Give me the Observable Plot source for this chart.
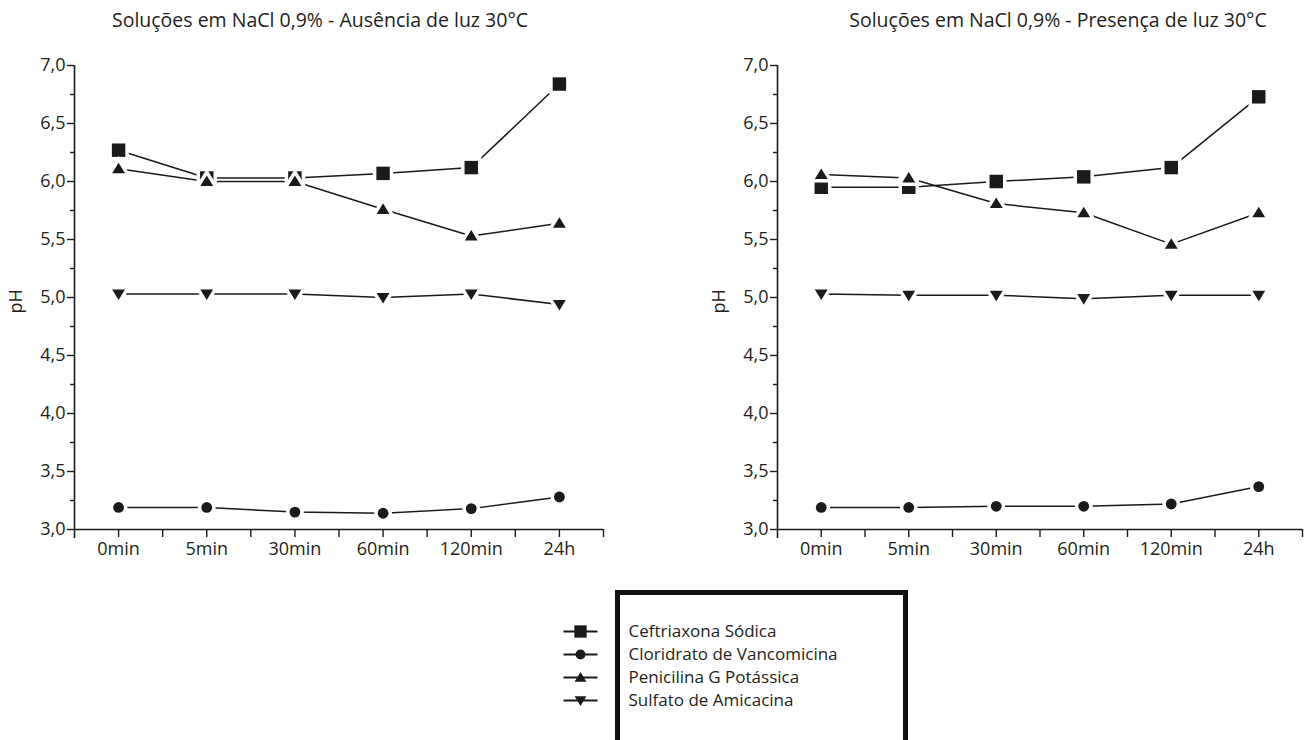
<!DOCTYPE html>
<html><head><meta charset="utf-8">
<script src="https://cdn.jsdelivr.net/npm/d3@7"></script>
<script src="https://cdn.jsdelivr.net/npm/@observablehq/plot@0.6"></script>
<style>
body{margin:0;background:#fff;font-family:"Open Sans",sans-serif;}
#wrap{position:relative;width:1304px;height:740px;overflow:hidden;background:#fff;}
.title{position:absolute;top:6px;font-size:19.5px;color:#231f20;white-space:nowrap;transform:translateX(-50%);}
.panel{position:absolute;top:40px;}
#legbox{position:absolute;left:615px;top:590px;width:293px;height:170px;border:5px solid #111;border-bottom:none;box-sizing:border-box;}
#leg{position:absolute;left:550px;top:600px;}
</style></head><body><div id="wrap">
<div class="title" style="left:320px">Soluções em NaCl 0,9% - Ausência de luz 30°C</div>
<div class="title" style="left:1058px">Soluções em NaCl 0,9% - Presença de luz 30°C</div>
<div id="legbox"></div>
</div>
<script>
// ---- data ----
const times = ["0min", "5min", "30min", "60min", "120min", "24h"];
const seriesNames = ["Ceftriaxona Sódica", "Cloridrato de Vancomicina", "Penicilina G Potássica", "Sulfato de Amicacina"];
const yTicks = [3.0, 3.5, 4.0, 4.5, 5.0, 5.5, 6.0, 6.5, 7.0];
// Ausência de luz
const ausCeftriaxona = [6.27, 6.03, 6.03, 6.07, 6.12, 6.84];
const ausVancomicina = [3.19, 3.19, 3.15, 3.14, 3.18, 3.28];
const ausPenicilina  = [6.11, 6.00, 6.00, 5.76, 5.53, 5.64];
const ausAmicacina   = [5.03, 5.03, 5.03, 5.00, 5.03, 4.94];
// Presença de luz
const preCeftriaxona = [5.95, 5.95, 6.00, 6.04, 6.12, 6.73];
const preVancomicina = [3.19, 3.19, 3.20, 3.20, 3.22, 3.37];
const prePenicilina  = [6.06, 6.03, 5.81, 5.73, 5.46, 5.73];
const preAmicacina   = [5.03, 5.02, 5.02, 4.99, 5.02, 5.02];

// ---- symbols ----
const rOf = s => Math.sqrt(s / Math.PI);
const symSquare = {draw(c, s){const r = rOf(s)*1.12; c.rect(-r, -r, 2*r, 2*r);}};
const symCircle = {draw(c, s){const r = rOf(s)*0.9; c.moveTo(r,0); c.arc(0,0,r,0,2*Math.PI);}};
const symTriUp = {draw(c, s){const r = rOf(s)*1.05; c.moveTo(0,-r*0.95); c.lineTo(r*1.02, r*0.72); c.lineTo(-r*1.02, r*0.72); c.closePath();}};
const symTriDown = {draw(c, s){const r = rOf(s)*1.05; c.moveTo(0,r*0.95); c.lineTo(r*1.02, -r*0.72); c.lineTo(-r*1.02, -r*0.72); c.closePath();}};
const symDash = {draw(c, s){c.moveTo(-17,0); c.lineTo(17,0);}};
const symbols = [symSquare, symCircle, symTriUp, symTriDown];

const fmt = d => d.toFixed(1).replace(".", ",");
const INK = "#1a1a1a";
const TXT = "#231f20";

function panel(values, opts) {
  const rows = [];
  seriesNames.forEach((s, i) => values[i].forEach((v, j) => rows.push({series: s, si: i, t: j, pH: v})));
  const marks = [
    Plot.ruleY([3], {stroke: INK, strokeWidth: 1.6}),
    Plot.ruleX([-0.5], {stroke: INK, strokeWidth: 1.6, insetBottom: -9}),
    Plot.axisY(yTicks, {tickSize: 7, tickPadding: 2, tickFormat: fmt, fontSize: 18, stroke: INK, strokeWidth: 1.4, fill: TXT, label: null}),
    Plot.axisY(d3.range(3.25, 7, 0.5), {tickSize: 4, tickFormat: null, text: null, stroke: INK, strokeWidth: 1.4, label: null}),
    Plot.axisX(d3.range(0, 6), {tickSize: 8, tickPadding: 5, tickFormat: i => times[i], fontSize: 18, stroke: INK, strokeWidth: 1.4, fill: TXT, label: null}),
    Plot.axisX(d3.range(0.5, 6, 1), {tickSize: 8, tickFormat: null, text: null, stroke: INK, strokeWidth: 1.4, label: null}),
    Plot.text(["pH"], {frameAnchor: "left", dx: opts.phDx, dy: 16, rotate: -90, fontSize: 18, fill: TXT}),
    Plot.line(rows, {x: "t", y: "pH", z: "series", stroke: INK, strokeWidth: 1.5})
  ];
  seriesNames.forEach((s, i) => {
    marks.push(Plot.dot(rows.filter(d => d.si === i), {x: "t", y: "pH", symbol: symbols[i], r: 6, fill: INK, stroke: "white", strokeWidth: 7, paintOrder: "stroke"}));
  });
  return Plot.plot({
    width: 652, height: 530,
    marginLeft: opts.ml, marginRight: opts.mr, marginTop: 25, marginBottom: 41,
    style: {fontFamily: "'Open Sans', sans-serif", fontSize: "18px", background: "transparent", overflow: "visible"},
    x: {type: "linear", domain: [-0.5, 5.5], axis: null},
    y: {type: "linear", domain: [3, 7], axis: null},
    marks
  });
}

const wrap = document.getElementById("wrap");
const p1 = panel([ausCeftriaxona, ausVancomicina, ausPenicilina, ausAmicacina], {ml: 74, mr: 49, phDx: -58});
p1.classList.add("panel"); p1.style.left = "0px"; wrap.appendChild(p1);
const p2 = panel([preCeftriaxona, preVancomicina, prePenicilina, preAmicacina], {ml: 125, mr: 2, phDx: -58});
p2.classList.add("panel"); p2.style.left = "652px"; wrap.appendChild(p2);

// ---- legend ----
const legMarks = [
  Plot.dot(seriesNames, {y: d => d, frameAnchor: "left", dx: 30, symbol: symDash, r: 6, stroke: INK, strokeWidth: 1.8}),
  Plot.text(seriesNames, {y: d => d, text: d => d, frameAnchor: "left", dx: 78, textAnchor: "start", fontSize: 17, fill: TXT})
];
seriesNames.forEach((s, i) => legMarks.push(Plot.dot([s], {y: d => d, frameAnchor: "left", dx: 30, symbol: symbols[i], r: 5.5, fill: INK})));
const leg = Plot.plot({
  width: 360, height: 140, marginLeft: 0, marginRight: 0, marginTop: 30, marginBottom: 40,
  style: {fontFamily: "'Open Sans', sans-serif", fontSize: "17px", background: "transparent"},
  y: {type: "point", domain: seriesNames, padding: 0, axis: null},
  marks: legMarks
});
leg.id = "leg"; wrap.appendChild(leg);
</script>
</body></html>
